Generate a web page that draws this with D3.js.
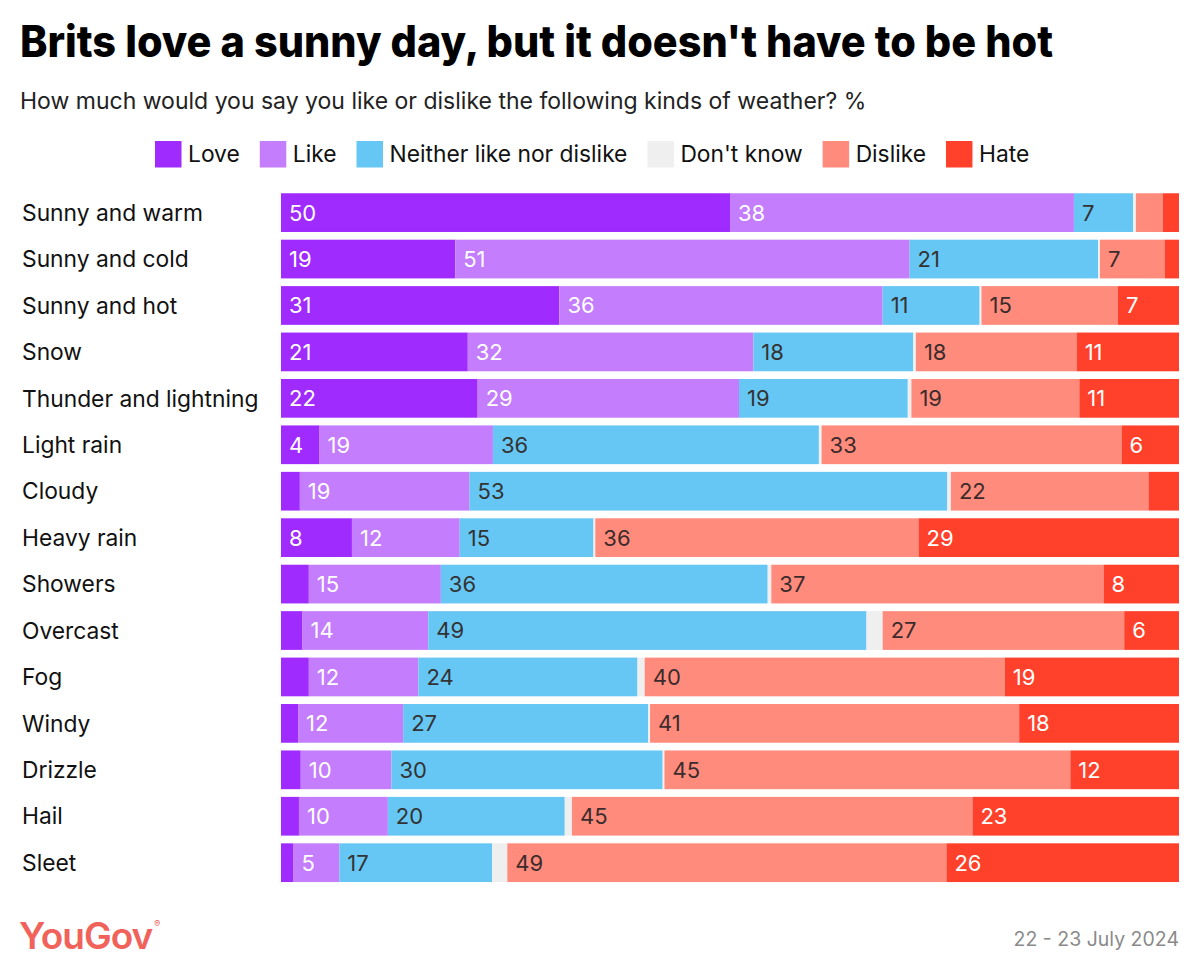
<!DOCTYPE html>
<html lang="en">
<head>
<meta charset="UTF-8">
<title>Brits love a sunny day</title>
<script src="https://d3js.org/d3.v7.min.js"></script>
<style>
  body { margin: 0; background: #fff; }
  svg text { font-family: Inter, "Noto Sans", sans-serif; }
</style>
</head>
<body>
<div id="chart"></div>
<script>
// weather kinds, top to bottom
const categories = ["Sunny and warm", "Sunny and cold", "Sunny and hot", "Snow", "Thunder and lightning",
  "Light rain", "Cloudy", "Heavy rain", "Showers", "Overcast", "Fog", "Windy", "Drizzle", "Hail", "Sleet"];

const seriesNames = ["Love", "Like", "Neither like nor dislike", "Don't know", "Dislike", "Hate"];

// % per category
const love     = [50.0, 19.4, 31.0, 20.8, 21.9,  4.3,  2.1,  7.9,  3.1,  2.4,  3.1,  1.9,  2.2,  2.0,  1.4];
const like     = [38.3, 50.6, 36.0, 31.8, 29.1, 19.3, 18.9, 12.0, 14.7, 14.0, 12.2, 11.7, 10.1,  9.9,  5.1];
const neither  = [ 6.6, 21.0, 10.8, 17.8, 18.8, 36.3, 53.2, 14.9, 36.4, 48.8, 24.4, 27.3, 30.2, 19.7, 17.0];
const dontKnow = [ 0.3,  0.2,  0.2,  0.3,  0.4,  0.3,  0.4,  0.2,  0.4,  1.8,  0.8,  0.2,  0.2,  0.8,  1.7];
const dislike  = [ 3.0,  7.2, 15.2, 17.9, 18.7, 33.4, 22.0, 36.0, 37.0, 26.9, 40.1, 41.1, 45.2, 44.6, 48.9];
const hate     = [ 1.8,  1.6,  6.8, 11.4, 11.1,  6.4,  3.4, 29.0,  8.4,  6.1, 19.4, 17.8, 12.1, 23.0, 25.9];

const colors = ["#a02bfe", "#c47dfd", "#67c7f4", "#efefef", "#ff8b7d", "#ff412c"];
const labelColors = ["#fff", "#fff", "#333", "#333", "#3b2b2b", "#fff"];

const W = 1200, H = 977;
const svg = d3.select("#chart").append("svg")
  .attr("width", W).attr("height", H);

// table for the stack
const cols = [love, like, neither, dontKnow, dislike, hate];
const table = categories.map((c, i) => {
  const row = { cat: c };
  seriesNames.forEach((s, j) => row[s] = cols[j][i]);
  return row;
});
const stacked = d3.stack().keys(seriesNames)(table);

const x = d3.scaleLinear().domain([0, 100]).range([281, 1179]);
const y = d3.scaleBand().domain(categories).range([189.4, 885.9])
  .paddingInner(0.166).paddingOuter(0.083);

// title + subtitle
svg.append("text")
  .attr("x", 20).attr("y", 57)
  .attr("font-size", 44).attr("font-weight", 800)
  .attr("fill", "#000")
  .attr("textLength", 1033).attr("lengthAdjust", "spacingAndGlyphs")
  .text("Brits love a sunny day, but it doesn't have to be hot");

svg.append("text")
  .attr("x", 20).attr("y", 109)
  .attr("font-size", 23).attr("fill", "#222")
  .text("How much would you say you like or dislike the following kinds of weather? %");

// legend
const legend = svg.append("g");
let lx = 155;
seriesNames.forEach((s, j) => {
  legend.append("rect")
    .attr("x", lx).attr("y", 141).attr("width", 26.5).attr("height", 26.5)
    .attr("fill", colors[j]);
  const t = legend.append("text")
    .attr("x", lx + 33).attr("y", 162)
    .attr("font-size", 22.8).attr("fill", "#111")
    .text(s);
  lx += 33 + t.node().getComputedTextLength() + 20;
});

// category labels
svg.append("g").selectAll("text")
  .data(categories)
  .join("text")
  .attr("x", 22)
  .attr("y", d => y(d) + y.bandwidth() / 2)
  .attr("dy", "0.36em")
  .attr("font-size", 22.8).attr("fill", "#111")
  .text(d => d);

// bars
const groups = svg.append("g").selectAll("g")
  .data(stacked)
  .join("g")
  .attr("fill", (d, j) => colors[j]);

groups.selectAll("rect")
  .data(d => d)
  .join("rect")
  .attr("x", d => x(d[0]))
  .attr("y", d => y(d.data.cat))
  .attr("width", d => x(d[1]) - x(d[0]))
  .attr("height", y.bandwidth());

groups.each(function(series, j) {
  d3.select(this).selectAll("text")
    .data(series.filter(d => Math.round(d[1] - d[0]) >= 4))
    .join("text")
    .attr("x", d => x(d[0]) + 8)
    .attr("y", d => y(d.data.cat) + y.bandwidth() / 2)
    .attr("dy", "0.36em")
    .attr("font-size", 22)
    .attr("fill", labelColors[j])
    .text(d => Math.round(d[1] - d[0]));
});

// footer
const logo = svg.append("text")
  .attr("x", 19).attr("y", 949)
  .attr("font-size", 37).attr("font-weight", 600)
  .attr("fill", "#f0625a")
  .attr("letter-spacing", -1)
  .text("YouGov");
logo.append("tspan")
  .attr("font-size", 9).attr("dy", -22).attr("dx", 2)
  .attr("font-weight", 400)
  .text("®");

svg.append("text")
  .attr("x", 1179).attr("y", 946)
  .attr("text-anchor", "end")
  .attr("font-size", 19.5).attr("fill", "#8a8a8a")
  .text("22 - 23 July 2024");
</script>
</body>
</html>
